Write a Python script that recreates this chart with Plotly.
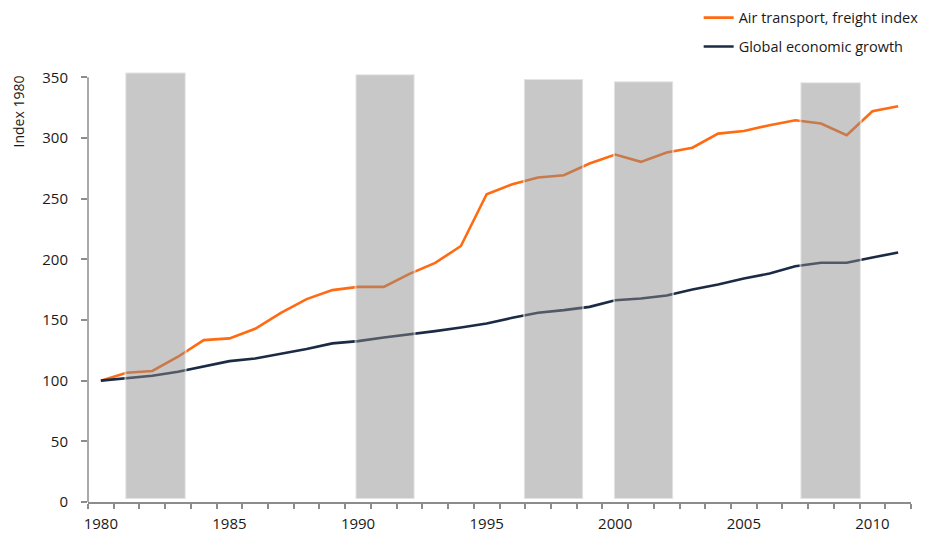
import plotly.graph_objects as go

# Annual index values, 1980 = 100
years = list(range(1980, 2012))
air_freight = [100, 106.5, 108, 119.7, 133.4, 134.8, 142.7, 155.9, 167.2, 174.6,
               177.3, 177.3, 188, 197, 211, 253.6, 261.9, 267.4, 269.3, 278.9,
               286.3, 280.3, 288, 292, 303.6, 305.8, 310.5, 314.6, 311.9, 302.2,
               322, 326.1]
global_growth = [100, 101.9, 104, 107.3, 112, 116.1, 118.3, 121.9, 126, 130.7,
                 132.6, 135.6, 138.1, 140.8, 143.8, 147.1, 151.8, 155.9, 158.1, 160.8,
                 166.3, 167.7, 170.2, 175.2, 179.3, 184.2, 188.3, 194.3, 197.1, 197.1,
                 201.5, 205.6]

# Shaded downturn periods
band_start = [1980.95, 1989.9, 1996.45, 1999.95, 2007.2]
band_end = [1983.3, 1992.2, 1998.75, 2002.25, 2009.55]
band_top = [354, 352.5, 348.5, 346.8, 346]
band_base = 2.5

y_ticks = [0, 50, 100, 150, 200, 250, 300, 350]
x_ticks = [1980, 1985, 1990, 1995, 2000, 2005, 2010]

ORANGE = "#ff6a12"
NAVY = "#1c2b45"
AXIS = "#8c8c8c"
FONT = "Open Sans"
TEXT = "#1a1a1a"

fig = go.Figure()

fig.add_trace(go.Scatter(
    x=years, y=air_freight, mode="lines", name="Air transport, freight index",
    legendgroup="air", line=dict(color=ORANGE, width=2.6)))
fig.add_trace(go.Scatter(
    x=years, y=global_growth, mode="lines", name="Global economic growth",
    legendgroup="gdp", line=dict(color=NAVY, width=2.6)))

# Translucent bands laid over the lines
bx, by = [], []
for s, e, t in zip(band_start, band_end, band_top):
    bx += [s, s, e, e, s, None]
    by += [band_base, t, t, band_base, band_base, None]
fig.add_trace(go.Scatter(
    x=bx, y=by, mode="lines", fill="toself",
    fillcolor="rgba(140,140,140,0.48)",
    line=dict(color="rgba(255,255,255,0.5)", width=2),
    showlegend=False, hoverinfo="skip"))

# Vertical axis line stops at the top tick
fig.add_shape(type="line", xref="paper", yref="y", x0=0, x1=0, y0=0, y1=350,
              line=dict(color=AXIS, width=1.5))

fig.add_annotation(
    text="Index 1980", textangle=-90, xref="paper", yref="paper",
    x=-0.0845, y=0.905, xanchor="center", yanchor="middle", showarrow=False,
    font=dict(family=FONT, size=14, color=TEXT))

fig.update_layout(
    width=933, height=533,
    margin=dict(l=88, r=22, t=70, b=31, autoexpand=False),
    paper_bgcolor="white", plot_bgcolor="white",
    font=dict(family=FONT, size=14, color=TEXT),
    showlegend=True,
    legend=dict(x=0.742, y=1.158, xanchor="left", yanchor="top",
                bgcolor="rgba(0,0,0,0)", font=dict(family=FONT, size=14.5, color=TEXT),
                tracegroupgap=7, traceorder="grouped"),
)
fig.update_xaxes(
    range=[1979.5, 2011.5], showgrid=False, zeroline=False, automargin=False,
    showline=True, linecolor=AXIS, linewidth=1.5,
    tickmode="array", tickvals=x_ticks, ticktext=[str(v) for v in x_ticks],
    ticks="outside", ticklen=0, ticklabelstandoff=7,
    tickfont=dict(family=FONT, size=15, color=TEXT),
    minor=dict(tickmode="linear", tick0=1979.5, dtick=1, ticks="outside",
               ticklen=5, tickcolor=AXIS, tickwidth=1.5, showgrid=False))
fig.update_yaxes(
    range=[0, 356], showgrid=False, zeroline=False, showline=False, automargin=False,
    tickmode="array", tickvals=y_ticks, ticktext=[str(v) for v in y_ticks],
    ticks="outside", ticklen=6, tickcolor=AXIS, tickwidth=1.5,
    ticklabelstandoff=10,
    tickfont=dict(family=FONT, size=15, color=TEXT))

fig.write_html("out.html")
